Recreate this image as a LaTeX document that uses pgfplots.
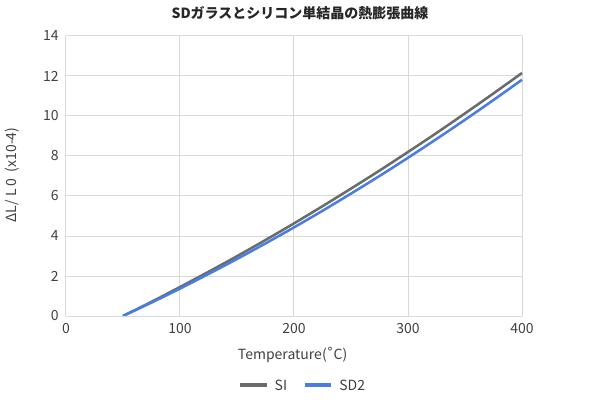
\documentclass[border=0pt]{standalone}
\usepackage{fontspec}
\setmainfont{Noto Sans CJK JP}
\newfontfamily\dejavu{DejaVu Sans}
\usepackage{pgfplots}
\pgfplotsset{compat=1.18}
\definecolor{sicol}{RGB}{105,108,108}
\definecolor{sdcol}{RGB}{74,125,225}
\definecolor{gridc}{RGB}{217,217,217}
\definecolor{txt}{RGB}{64,64,64}
\begin{document}
\begin{tikzpicture}
\useasboundingbox (-49.5pt,-63pt) rectangle (400.5pt,237pt);
\begin{axis}[
  at={(0,0)}, anchor=south west,
  scale only axis, width=342pt, height=210pt,
  xmin=0, xmax=400, ymin=0, ymax=14,
  xtick={0,100,200,300,400}, ytick={0,2,...,14},
  grid=major, major grid style={gridc, line width=0.75pt},
  axis line style={draw=none},
  axis x line*=bottom, axis y line*=left,
  tick style={draw=none},
  ticklabel style={font=\fontsize{10.5}{12}\selectfont, text=txt},
  /pgf/number format/assume math mode=true,
  xticklabel style={yshift=-2pt},
  yticklabel style={xshift=-2pt},
  clip=false,
]
\addplot[sicol, line width=1.9pt, smooth, tension=0.4] coordinates {
(50,0) (75,0.71) (100,1.45) (125,2.21) (150,2.99) (175,3.80) (200,4.63) (225,5.49) (250,6.37) (275,7.27) (300,8.20) (325,9.15) (350,10.13) (375,11.13) (400,12.15)};
\addplot[sdcol, line width=1.9pt, smooth, tension=0.4] coordinates {
(50,0) (75,0.67) (100,1.37) (125,2.10) (150,2.85) (175,3.63) (200,4.43) (225,5.26) (250,6.12) (275,7.00) (300,7.91) (325,8.85) (350,9.81) (375,10.80) (400,11.81)};
\draw[gridc, line width=0.75pt] (axis cs:0,0) -- (axis cs:400,0);
\end{axis}
\node[font=\fontsize{10.5}{12}\selectfont\bfseries, text=black!85] at (175.5pt,227.25pt) {SDガラスとシリコン単結晶の熱膨張曲線};
\node[font=\fontsize{10.5}{12}\selectfont, text=txt] at (170pt,-29.25pt) {Temperature({\dejavu ˚}C)};
\node[font=\fontsize{10.5}{12}\selectfont, text=txt, rotate=90] at (-40.5pt,105.75pt) {ΔL/ L 0 \ (x10-4)};
\draw[sicol, line width=2.3pt] (130.5pt,-51.75pt) -- (150.75pt,-51.75pt);
\node[font=\fontsize{10.5}{12}\selectfont, text=txt, anchor=west] at (153pt,-51.75pt) {SI};
\draw[sdcol, line width=2.3pt] (179.25pt,-51.75pt) -- (199pt,-51.75pt);
\node[font=\fontsize{10.5}{12}\selectfont, text=txt, anchor=west] at (201.5pt,-51.75pt) {SD2};
\end{tikzpicture}
\end{document}
